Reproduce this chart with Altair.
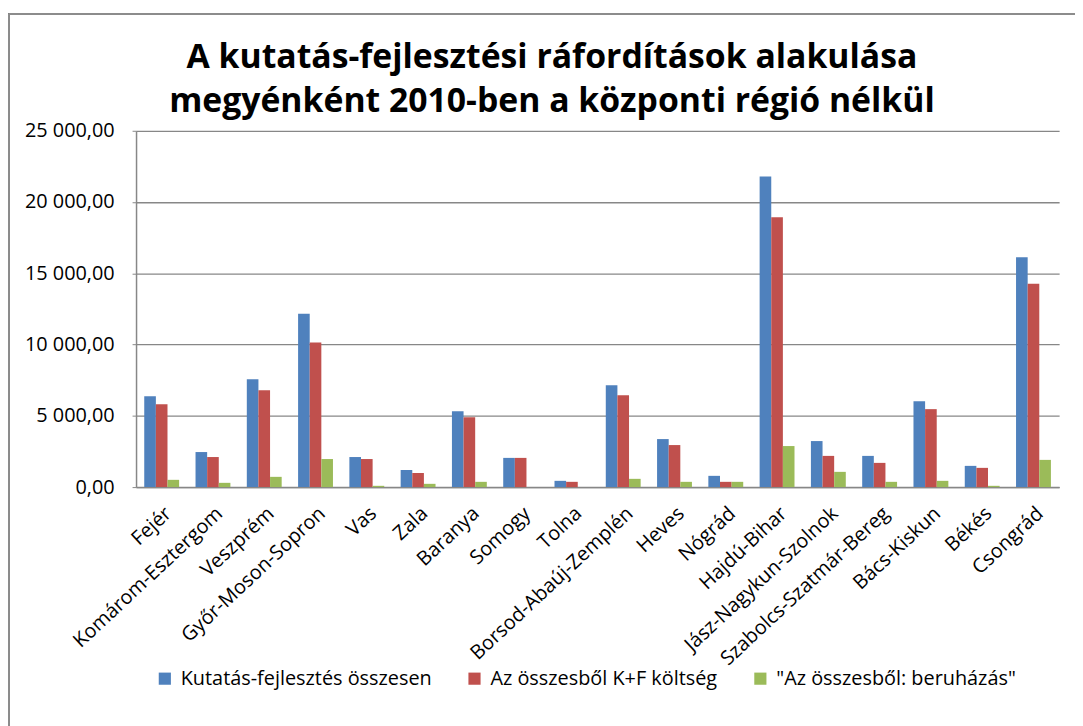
import altair as alt
import pandas as pd

megyek = ["Fejér", "Komárom-Esztergom", "Veszprém", "Győr-Moson-Sopron", "Vas", "Zala",
          "Baranya", "Somogy", "Tolna", "Borsod-Abaúj-Zemplén", "Heves", "Nógrád",
          "Hajdú-Bihar", "Jász-Nagykun-Szolnok", "Szabolcs-Szatmár-Bereg", "Bács-Kiskun",
          "Békés", "Csongrád"]
osszesen = [6370, 2460, 7560, 12170, 2110, 1200, 5330, 2050, 440, 7140, 3370, 790,
            21800, 3230, 2190, 6030, 1490, 16130]
kf_koltseg = [5810, 2110, 6790, 10150, 1970, 990, 4900, 2050, 370, 6440, 2950, 370,
              18930, 2190, 1700, 5470, 1350, 14260]
beruhazas = [510, 300, 720, 1970, 90, 230, 370, 0, 0, 580, 370, 370,
             2880, 1070, 370, 440, 90, 1910]
sorozatok = ["Kutatás-fejlesztés összesen", "Az összesből K+F költség", "\"Az összesből: beruházás\""]
szinek = ["#4F81BD", "#C0504D", "#9BBB59"]

rows = []
for i, m in enumerate(megyek):
    for s, vals in zip(sorozatok, [osszesen, kf_koltseg, beruhazas]):
        rows.append({"megye": m, "sorozat": s, "ertek": vals[i]})
df = pd.DataFrame(rows)

FONT = "Open Sans"

bars = alt.Chart(df).mark_bar().encode(
    x=alt.X("megye:N", sort=megyek, title=None,
            scale=alt.Scale(paddingInner=0.32, paddingOuter=0.16),
            axis=alt.Axis(labelAngle=-43, labelFontSize=20, labelFont=FONT, labelColor="#000000",
                          ticks=False, domainColor="#878787", domainWidth=1.5, labelPadding=16,
                          labelLimit=400)),
    xOffset=alt.XOffset("sorozat:N", sort=sorozatok),
    y=alt.Y("ertek:Q", title=None,
            scale=alt.Scale(domain=[0, 25000], nice=False),
            axis=alt.Axis(values=[0, 5000, 10000, 15000, 20000, 25000],
                          labelExpr="replace(replace(format(datum.value, ',.2f'), ',', ' '), '.', ',')",
                          labelFontSize=20, labelFont=FONT, labelColor="#000000",
                          gridColor="#878787", gridWidth=1.3, domainColor="#878787", domainWidth=1.5,
                          tickColor="#878787", tickSize=4, labelPadding=18)),
    color=alt.Color("sorozat:N", sort=sorozatok,
                    scale=alt.Scale(domain=sorozatok, range=szinek),
                    legend=alt.Legend(title=None, orient="none", direction="horizontal",
                                      legendX=19, legendY=542, symbolType="square", symbolSize=150,
                                      symbolStrokeWidth=0, labelFontSize=20, labelFont=FONT,
                                      labelColor="#000000", columnPadding=33, labelOffset=6,
                                      labelLimit=400)),
)

# chart-area frame (left and top edges)
frame_left = alt.Chart(df).mark_rule(color="#8c8c8c", strokeWidth=1.5).encode(
    x=alt.value(-128), y=alt.value(-118), y2=alt.value(600))
frame_top = alt.Chart(df).mark_rule(color="#8c8c8c", strokeWidth=1.5).encode(
    x=alt.value(-128), x2=alt.value(950), y=alt.value(-118))

chart = alt.layer(bars, frame_left, frame_top).properties(
    width=930,
    height=359,
    title=alt.TitleParams(
        text=["A kutatás-fejlesztési ráfordítások alakulása",
              "megyénként 2010-ben a központi régió nélkül"],
        font=FONT, fontSize=34, fontWeight="bold", color="#000000",
        anchor="middle", dx=-46, offset=-107, lineHeight=45),
    autosize=alt.AutoSizeParams(type="none"),
    padding={"left": 129, "top": 121, "right": 16, "bottom": 240},
).configure_view(stroke=None)

chart.save("out.html", embed_options={"renderer": "svg", "actions": False})
